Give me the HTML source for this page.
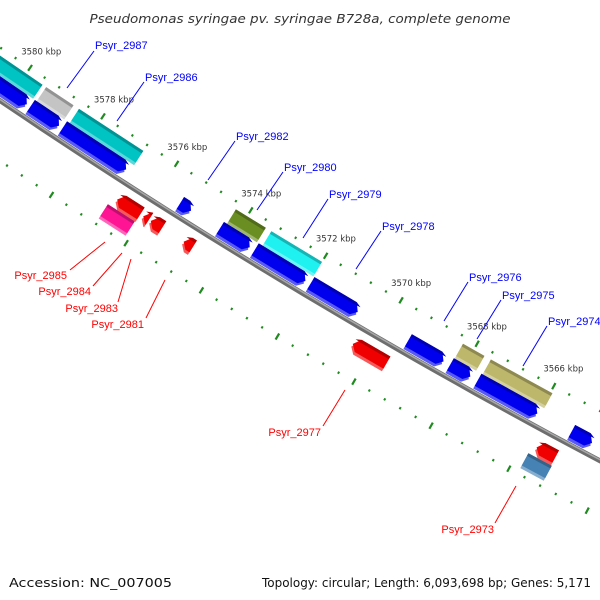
<!DOCTYPE html>
<html><head><meta charset="utf-8"><style>
html,body{margin:0;padding:0;background:#fff;}
svg{display:block;}
</style></head><body>
<svg id="chart" width="600" height="600" viewBox="0 0 600 600" xmlns="http://www.w3.org/2000/svg">
<text x="300" y="23" text-anchor="middle" font-family="DejaVu Sans, Liberation Sans, sans-serif" font-style="italic" font-size="12.5" fill="#333" textLength="421" lengthAdjust="spacingAndGlyphs">Pseudomonas syringae pv. syringae B728a, complete genome</text>
<g id="ticks"></g>
<g id="backbone"></g>
<g id="genes"></g>
<g id="labels"></g>
<text x="9" y="587" font-family="DejaVu Sans, Liberation Sans, sans-serif" font-size="12" fill="#111" textLength="163" lengthAdjust="spacingAndGlyphs">Accession: NC_007005</text>
<text x="262" y="587" font-family="DejaVu Sans, Liberation Sans, sans-serif" font-size="12" fill="#111" textLength="329" lengthAdjust="spacingAndGlyphs">Topology: circular; Length: 6,093,698 bp; Genes: 5,171</text>
</svg>
<script>
const geneStart=[3582,3579.45,3578.55,3574.3,3573.35,3568.28,3567.55,
 3582,3579.5,3578.62,3575.45,3574.38,3573.45,3571.97,3569.4,3568.3,3567.58,3565.15,
 3576.7,3576.0,3575.8,3574.92,3570.45,3565.68,3563.95,
 3576.82,3565.78];
const geneEnd=[3579.55,3578.7,3576.8,3573.5,3572.0,3567.72,3565.95,
 3579.6,3578.72,3576.9,3575.15,3573.58,3572.1,3570.72,3568.47,3567.77,3566.03,3564.62,
 3576.08,3575.85,3575.5,3574.68,3569.57,3565.2,3563.4,
 3576.1,3565.18];
const geneLane=['o+','o+','o+','o+','o+','o+','o+',
 'i+','i+','i+','i+','i+','i+','i+','i+','i+','i+','i+',
 'i-','i-','i-','i-','i-','i-','i-',
 'o-','o-'];
const geneColor=['#00c4c4','#c4c4c4','#00c4c4','#6b8e23','#1ff0f0','#bdb76b','#bdb76b',
 '#0000ee','#0000ee','#0000ee','#0000ee','#0000ee','#0000ee','#0000ee','#0000ee','#0000ee','#0000ee','#0000ee',
 '#f00000','#f00000','#f00000','#f00000','#f00000','#f00000','#f00000',
 '#ff1493','#4682b4'];
const geneArrow=[0,0,0,0,0,0,0, 1,1,1,1,1,1,1,1,1,1,1, 1,1,1,1,1,1,1, 0,0];
const tickLabels=[3580,3578,3576,3574,3572,3570,3568,3566];
const labelNames=['Psyr_2987','Psyr_2986','Psyr_2982','Psyr_2980','Psyr_2979','Psyr_2978','Psyr_2976','Psyr_2975','Psyr_2974',
 'Psyr_2985','Psyr_2984','Psyr_2983','Psyr_2981','Psyr_2977','Psyr_2973'];
const labelX=[95,145,236,284,329,382,469,502,548, 67,91,118,144,321,494];
const labelY=[49,81,140,171,198,230,281,299,325, 279,295,312,328,436,533];
const lineX1=[94,144,235,283,328,381,468,501,547, 70,93,118,146,323,495];
const lineY1=[51,82,141,172,199,231,282,300,326, 270,286,302,318,426,523];
const lineX2=[67,117,208,257,303,356,444,477,523, 105,122,131,165,345,516];
const lineY2=[88,121,180,210,238,269,321,339,366, 242,253,259,280,390,486];

const NS='http://www.w3.org/2000/svg';
const R=6484,CX=3633,CY=-5270,TH0=122.46*Math.PI/180,DTH=0.0068;
function P(k,v){const th=TH0+(k-3576)*DTH;const r=R+v;return [CX+r*Math.cos(th),CY+r*Math.sin(th)];}
function mk(tag,attrs,parent){const e=document.createElementNS(NS,tag);for(const a in attrs)e.setAttribute(a,attrs[a]);parent.appendChild(e);return e;}
function pts(a){return a.map(p=>p[0].toFixed(1)+','+p[1].toFixed(1)).join(' ');}
function shade(hex,f){let n=parseInt(hex.slice(1),16);let r=n>>16,g=(n>>8)&255,b=n&255;
 if(f>0){r=r+(255-r)*f;g=g+(255-g)*f;b=b+(255-b)*f;}else{r=r*(1+f);g=g*(1+f);b=b*(1+f);}
 return 'rgb('+Math.round(r)+','+Math.round(g)+','+Math.round(b)+')';}

// ticks
const tg=document.getElementById('ticks');
for(let i=0;i<=55;i++){
 const k=3582-i*0.4;const kr=Math.round(k*10)/10;
 const big=Math.abs(kr/2-Math.round(kr/2))<0.01;
 [-44,50].forEach(v=>{
  const h=big?3.5:1.2;const a=P(kr,v-h),b=P(kr,v+h);
  const l=mk('line',{x1:a[0],y1:a[1],x2:b[0],y2:b[1],stroke:'#1f8a1f','stroke-width':big?2.2:2},tg);
  
  
 });
}
tickLabels.forEach(k=>{
 const p=P(k,-64);
 const t=mk('text',{x:p[0],y:p[1]+3,'text-anchor':'middle','font-family':'DejaVu Sans, Liberation Sans, sans-serif','font-size':'8.5',fill:'#333'},tg);
 t.textContent=k+' kbp';
 
 
});

// backbone
const bg=document.getElementById('backbone');
const bp=[];for(let k=3584;k>=3561;k-=0.5)bp.push(P(k,0));
const b1=mk('polyline',{points:pts(bp),fill:'none',stroke:'#6e6e6e','stroke-width':5},bg);


const bp2=[];for(let k=3584;k>=3561;k-=0.5)bp2.push(P(k,-1));
const b2=mk('polyline',{points:pts(bp2),fill:'none',stroke:'#a8a8a8','stroke-width':1.5},bg);



// genes
const gg=document.getElementById('genes');
const laneV={'o+':-30,'i+':-13,'i-':17,'o-':34};
function genePoly(ks,ke,v,h,arrowDir){
 const t=v-h/2,b=v+h/2,a=0.13;
 if(arrowDir===1) return [P(ks,t),P(ke+a,t),P(ke,v+1),P(ke+a,b),P(ks,b)];
 if(arrowDir===-1) return [P(ks-a,t),P(ke,t),P(ke,b),P(ks-a,b),P(ks,v+1)];
 return [P(ks,t),P(ke,t),P(ke,b),P(ks,b)];
}
for(let i=0;i<geneStart.length;i++){
 const lane=geneLane[i];const v=laneV[lane];const h=14;
 const dir=geneArrow[i]?(lane.endsWith('+')?1:-1):0;
 const g=mk('g',{},gg);
 
 
 const c=geneColor[i];
 mk('polygon',{points:pts(genePoly(geneStart[i],geneEnd[i],v+3,h,dir)),fill:shade(c,0.35)},g);
 mk('polygon',{points:pts(genePoly(geneStart[i],geneEnd[i],v,h,dir)),fill:c},g);
 mk('polygon',{points:pts(genePoly(geneStart[i],geneEnd[i],v-h/2+1.5,3,dir)),fill:shade(c,-0.25)},g);
}

// labels
const lg=document.getElementById('labels');
for(let i=0;i<labelNames.length;i++){
 const red=i>=9;const col=red?'#ff0000':'#0000ff';
 const l=mk('line',{x1:lineX1[i],y1:lineY1[i],x2:lineX2[i],y2:lineY2[i],stroke:col,'stroke-width':1},lg);
 
 
 const t=mk('text',{x:labelX[i],y:labelY[i],'text-anchor':red?'end':'start','font-family':'Liberation Sans, sans-serif','font-size':'11',fill:col},lg);
 t.textContent=labelNames[i];
 
 
}
</script>
</body></html>
